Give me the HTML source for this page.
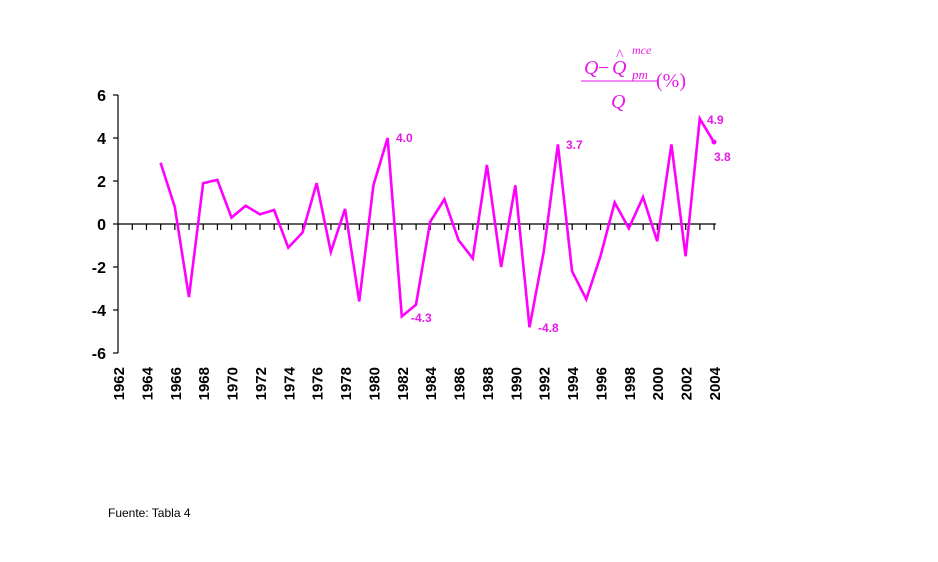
<!DOCTYPE html>
<html><head><meta charset="utf-8"><style>
html,body{margin:0;padding:0;background:#fff;}
svg{display:block;}
.yl{font:bold 16px "Liberation Sans",sans-serif;fill:#000;text-anchor:end;}
.xl{font:bold 15px "Liberation Sans",sans-serif;fill:#000;text-anchor:end;}
.dl{font:bold 12px "Liberation Sans",sans-serif;fill:#e619e6;}
.f{font:italic 20px "Liberation Serif",serif;fill:#e619e6;}
</style></head><body>
<svg width="938" height="562" viewBox="0 0 938 562" xmlns="http://www.w3.org/2000/svg">
<rect width="938" height="562" fill="#fff"/>
<g stroke="#000" stroke-width="1.2">
<line x1="118" y1="95" x2="118" y2="353"/>
<line x1="113" y1="95" x2="118" y2="95"/>
<line x1="113" y1="138" x2="118" y2="138"/>
<line x1="113" y1="181" x2="118" y2="181"/>
<line x1="113" y1="224" x2="118" y2="224"/>
<line x1="113" y1="267" x2="118" y2="267"/>
<line x1="113" y1="310" x2="118" y2="310"/>
<line x1="113" y1="353" x2="118" y2="353"/>
<line x1="118" y1="224" x2="716" y2="224"/>
</g>
<line x1="117.5" y1="227" x2="716" y2="227" stroke="#000" stroke-width="6" stroke-dasharray="1.2 12.99"/>
<g class="yl">
<text x="106" y="101">6</text><text x="106" y="144">4</text><text x="106" y="187">2</text>
<text x="106" y="230">0</text><text x="106" y="273">-2</text><text x="106" y="316">-4</text><text x="106" y="359">-6</text>
</g>
<g class="xl">
<text transform="translate(124,367) rotate(-90)">1962</text>
<text transform="translate(152.4,367) rotate(-90)">1964</text>
<text transform="translate(180.8,367) rotate(-90)">1966</text>
<text transform="translate(209.1,367) rotate(-90)">1968</text>
<text transform="translate(237.5,367) rotate(-90)">1970</text>
<text transform="translate(265.9,367) rotate(-90)">1972</text>
<text transform="translate(294.3,367) rotate(-90)">1974</text>
<text transform="translate(322.7,367) rotate(-90)">1976</text>
<text transform="translate(351,367) rotate(-90)">1978</text>
<text transform="translate(379.4,367) rotate(-90)">1980</text>
<text transform="translate(407.8,367) rotate(-90)">1982</text>
<text transform="translate(436.2,367) rotate(-90)">1984</text>
<text transform="translate(464.6,367) rotate(-90)">1986</text>
<text transform="translate(492.9,367) rotate(-90)">1988</text>
<text transform="translate(521.3,367) rotate(-90)">1990</text>
<text transform="translate(549.7,367) rotate(-90)">1992</text>
<text transform="translate(578.1,367) rotate(-90)">1994</text>
<text transform="translate(606.5,367) rotate(-90)">1996</text>
<text transform="translate(634.8,367) rotate(-90)">1998</text>
<text transform="translate(663.2,367) rotate(-90)">2000</text>
<text transform="translate(691.6,367) rotate(-90)">2002</text>
<text transform="translate(720,367) rotate(-90)">2004</text>
</g>
<g transform="matrix(14.19,0,0,-21.5,-27722.78,224)">
<polyline vector-effect="non-scaling-stroke" fill="none" stroke="#ff00ff" stroke-width="2.6" stroke-linejoin="miter"
points="1965,2.85 1966,0.8 1967,-3.4 1968,1.9 1969,2.05 1970,0.3 1971,0.85 1972,0.45 1973,0.65 1974,-1.1 1975,-0.4 1976,1.9 1977,-1.3 1978,0.7 1979,-3.6 1980,1.8 1981,4.0 1982,-4.3 1983,-3.75 1984,0.1 1985,1.15 1986,-0.75 1987,-1.6 1988,2.75 1989,-2.0 1990,1.8 1991,-4.8 1992,-1.3 1993,3.7 1994,-2.2 1995,-3.5 1996,-1.5 1997,1.0 1998,-0.2 1999,1.25 2000,-0.8 2001,3.7 2002,-1.5 2003,4.9 2004,3.8"/>
</g>
<circle cx="714" cy="142" r="2.5" fill="#ff00ff"/>
<g class="dl">
<text x="396" y="142">4.0</text>
<text x="411" y="322">-4.3</text>
<text x="538" y="332">-4.8</text>
<text x="566" y="149">3.7</text>
<text x="707" y="124">4.9</text>
<text x="714" y="161">3.8</text>
</g>
<g class="f">
<text x="584" y="74">Q</text>
<text x="598" y="74" font-style="normal">−</text>
<text x="612" y="74">Q</text>
<text x="616" y="60" font-size="16" font-style="normal">^</text>
<text x="632" y="54" font-size="12">mce</text>
<text x="632" y="79" font-size="13">pm</text>
<text x="656" y="87" font-style="normal">(%)</text>
<text x="611" y="108">Q</text>
</g>
<line x1="581" y1="81" x2="657" y2="81" stroke="#e619e6" stroke-width="1"/>
<text x="108" y="517" style="font:12px 'Liberation Sans',sans-serif;fill:#000">Fuente: Tabla 4</text>
</svg>
</body></html>
